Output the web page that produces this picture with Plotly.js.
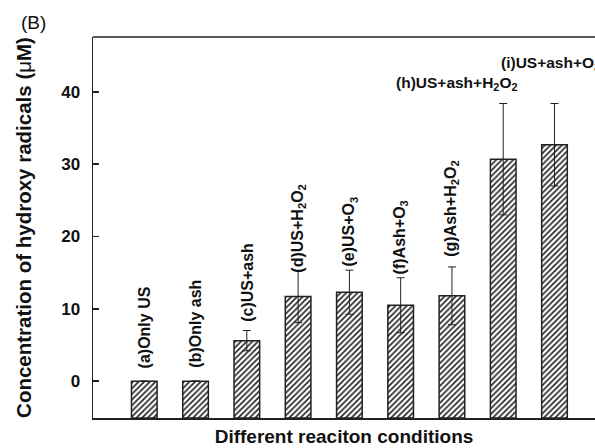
<!DOCTYPE html>
<html><head><meta charset="utf-8">
<script src="https://cdn.plot.ly/plotly-3.0.1.min.js"></script>
<style>html,body{margin:0;padding:0;overflow:hidden;background:#fff}</style>
</head><body>
<div id="chart" style="width:595px;height:448px"></div>
<script>
// ---- data ----
const categories = ['a', 'b', 'c', 'd', 'e', 'f', 'g', 'h', 'i'];
const barLabels = [
  '(a)Only US',
  '(b)Only ash',
  '(c)US+ash',
  '(d)US+H<sub>2</sub>O<sub>2</sub>',
  '(e)US+O<sub>3</sub>',
  '(f)Ash+O<sub>3</sub>',
  '(g)Ash+H<sub>2</sub>O<sub>2</sub>',
  '(h)US+ash+H<sub>2</sub>O<sub>2</sub>',
  '(i)US+ash+O<sub>3</sub>'
];
const values = [0, 0, 5.6, 11.7, 12.3, 10.5, 11.8, 30.7, 32.7];
const errors = [0, 0, 1.4, 3.6, 3.05, 3.8, 4.0, 7.7, 5.7];
const yTicks = [0, 10, 20, 30, 40];

// ---- layout helpers (positions / styles) ----
const yRange = [-5.1, 47.6];
const labelGap = [11, 11, 7, -4, 2, 1, 8];           // px above error cap (vertical labels)
const flatLabelPos = {7: {x: 4.87, y: 41.15}, 8: {x: 6.92, y: 43.9}}; // horizontal labels
const FONT = 'Liberation Sans, Arial, Helvetica, sans-serif';

// bars rise from the bottom of the axis frame, as in the reference
const trace = {
  type: 'bar',
  x: categories,
  base: values.map(() => yRange[0]),
  y: values.map(v => v - yRange[0]),
  width: 0.5,
  marker: {
    color: '#ffffff',
    line: {color: '#222', width: 1.5},
    pattern: {shape: '/', size: 4, solidity: 0.4, fgcolor: '#222', bgcolor: '#ffffff'}
  },
  error_y: {type: 'data', array: errors, visible: true, color: '#222', thickness: 1, width: 4},
  hoverinfo: 'skip'
};

const annotations = barLabels.map((t, i) => {
  if (flatLabelPos[i]) {
    return {text: t, x: flatLabelPos[i].x, y: flatLabelPos[i].y, xref: 'x', yref: 'y',
      xanchor: 'left', yanchor: 'middle', showarrow: false,
      font: {family: FONT, size: 15.5, color: '#111', weight: 'bold'}};
  }
  return {text: t, x: categories[i], y: values[i] + errors[i], xref: 'x', yref: 'y',
    xanchor: 'center', yanchor: 'bottom', textangle: -90, yshift: labelGap[i], showarrow: false,
    font: {family: FONT, size: 16, color: '#111', weight: 'bold'}};
});
annotations.push({text: '(B)', xref: 'paper', yref: 'paper', x: -0.148, y: 1.037,
  xanchor: 'left', yanchor: 'middle', showarrow: false,
  font: {family: FONT, size: 19, color: '#111'}});

const layout = {
  width: 595, height: 448,
  margin: {l: 93, r: 0, t: 37, b: 30},
  paper_bgcolor: '#fff', plot_bgcolor: '#fff',
  showlegend: false,
  font: {family: FONT, color: '#111'},
  xaxis: {
    type: 'category', range: [-1, 8.79],
    showticklabels: false, ticks: '', showgrid: false, zeroline: false,
    showline: true, linecolor: '#222', linewidth: 1.5,
    title: {text: 'Different reaciton conditions', standoff: 11,
      font: {family: FONT, size: 19, color: '#111', weight: 'bold'}},
    automargin: false
  },
  yaxis: {
    range: yRange, tickvals: yTicks, ticktext: yTicks.map(String),
    ticks: 'inside', ticklen: 6, tickwidth: 1.5, tickcolor: '#222',
    ticklabelstandoff: 8,
    tickfont: {family: FONT, size: 17, color: '#111', weight: 'bold'},
    showgrid: false, zeroline: false,
    showline: true, linecolor: '#222', linewidth: 1.5,
    title: {text: 'Concentration of hydroxy radicals (<span style="font-weight:normal">μ</span>M)', standoff: 24,
      font: {family: FONT, size: 20.5, color: '#111', weight: 'bold'}},
    automargin: false
  },
  shapes: [{type: 'line', xref: 'paper', yref: 'paper', x0: 0, x1: 1, y0: 1, y1: 1,
    line: {color: '#222', width: 1.5}}],
  annotations: annotations
};

Plotly.newPlot('chart', [trace], layout, {displayModeBar: false, staticPlot: true});
</script>
</body></html>
